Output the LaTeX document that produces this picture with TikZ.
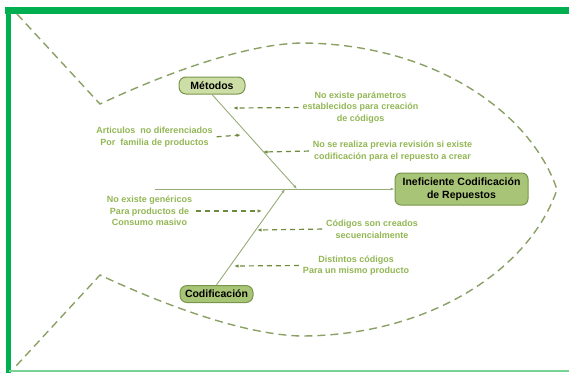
\documentclass[tikz,border=0pt]{standalone}
\usepackage{fontspec}
\setmainfont{Liberation Sans}
\usetikzlibrary{arrows.meta, calc}
\definecolor{framegreen}{RGB}{0,176,80}
\definecolor{framelight}{RGB}{120,210,150}
\definecolor{fishgreen}{RGB}{138,160,100}
\definecolor{notegreen}{RGB}{146,182,84}
\definecolor{cuegreen}{RGB}{110,138,62}
\definecolor{bonegreen}{RGB}{150,172,120}
\definecolor{boxline}{RGB}{120,150,75}
\definecolor{methfill}{RGB}{204,221,165}
\definecolor{codfill}{RGB}{168,196,118}
\tikzset{
	cause/.style={rectangle, draw=boxline, line width=1pt, rounded corners=7pt, minimum height=17pt, inner xsep=3pt, font=\fontsize{10.5}{12}\selectfont\bfseries},
	effect/.style={rectangle, draw=boxline, fill=codfill, line width=1pt, rounded corners=6pt, align=center, minimum width=133pt, minimum height=32pt, font=\fontsize{10.5}{13}\selectfont\bfseries},
	note/.style={text=notegreen, align=center, inner sep=1pt, font=\fontsize{9}{11.5}\selectfont\bfseries},
	cue/.style={draw=cuegreen, line width=1.2pt, dash pattern=on 5pt off 4pt, shorten <=3pt, -{Latex[length=4.5pt, width=3.5pt]}},
	bone/.style={draw=bonegreen, line width=0.9pt, -{Latex[length=4pt, width=3pt]}},
	fishline/.style={draw=fishgreen, line width=1.4pt, dash pattern=on 8pt off 5pt}
}

\begin{document}
\begin{tikzpicture}[x=1pt, y=-1pt]
	\useasboundingbox (0,0) rectangle (569,373);
	% frame
	\draw[framegreen, line width=7pt] (5,10.5) -- (569,10.5);
	\draw[framegreen, line width=5pt] (8.5,7) -- (8.5,373);
	\draw[framelight, line width=1.5pt] (8.5,371) -- (569,371);
	
	% fish body and tail
	\draw[fishline] (17,14) -- (100,104)
		.. controls (160,76) and (240,45) .. (300,43)
		.. controls (430,43) and (530,110) .. (557,189.5)
		.. controls (530,269) and (430,336) .. (300,336)
		.. controls (240,334) and (160,303) .. (100,275) -- (16,366);
	
	% head, causes and spine
	\node[effect] (eff) at (461.5,189) {Ineficiente Codificación\\de Repuestos};
	\node[cause, fill=methfill, minimum width=66pt] (met) at (212,85.5) {Métodos};
	\node[cause, fill=codfill, minimum width=73pt] (cod) at (216.5,294) {Codificación};
	\coordinate (spst) at (155,189);
	\coordinate (mj) at (297,189);
	\coordinate (cj) at (285,189);
	\draw[bone] (spst) -- (eff.west);
	\draw[bone] (met.south) -- (mj);
	\draw[bone] (cod.north) -- (cj);
	
	% sub-causes
	\node[note] (l1) at (360.5,107.5) {No existe parámetros\\establecidos para creación\\de códigos};
	\node[note] (l2) at (154.5,137) {Articulos\ \ no diferenciados\\Por\ \ familia de productos};
	\node[note] (l3) at (392.5,151) {No se realiza previa revisión si existe\\codificación para el repuesto a crear};
	\node[note] (l4) at (149.5,211) {No existe genéricos\\Para productos de\\Consumo masivo};
	\node[note] (l5) at (372,229) {Códigos son creados\\secuencialmente};
	\node[note] (l6) at (356,265.5) {Distintos códigos\\Para un mismo producto};
	\coordinate (a1) at (233,108);
	\coordinate (a2) at (241,135);
	\coordinate (a3) at (263,152);
	\coordinate (a4) at (262,211);
	\coordinate (a5) at (257,230);
	\coordinate (a6) at (234,266);
	\draw[cue] (l1.west) -- (a1);
	\draw[cue] (l2.east) -- (a2);
	\draw[cue] (l3.west) -- (a3);
	\draw[cue] (l4.east) -- (a4);
	\draw[cue] (l5.west) -- (a5);
	\draw[cue] (l6.west) -- (a6);
\end{tikzpicture}
\end{document}
